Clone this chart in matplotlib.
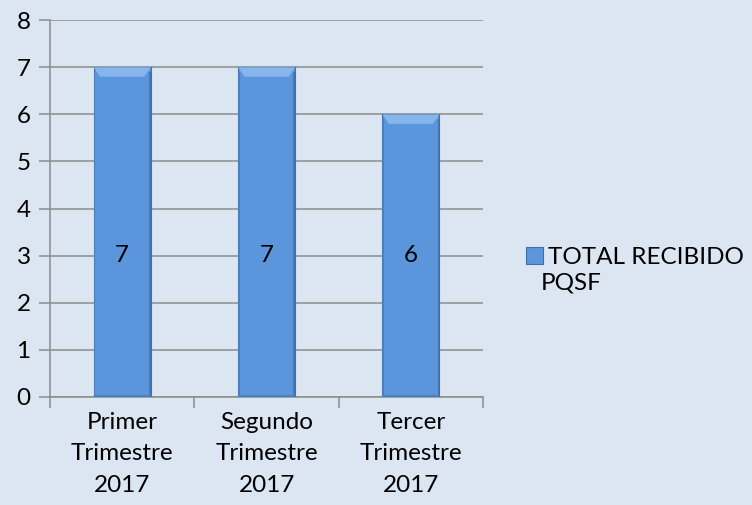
import matplotlib.pyplot as plt
from matplotlib.patches import Polygon, Rectangle

# data
categories = ["Primer\nTrimestre\n2017", "Segundo\nTrimestre\n2017", "Tercer\nTrimestre\n2017"]
values = [7, 7, 6]
series_name = ["TOTAL RECIBIDO", "PQSF"]

bg = "#DCE6F2"
bar_color = "#5B96DD"
fs = 17.5
plt.rcParams['font.family'] = ['Lato', 'DejaVu Sans']

fig = plt.figure(figsize=(7.52, 5.05), dpi=100, facecolor=bg)
ax = fig.add_axes([0.0665, 0.214, 0.576, 0.746], facecolor=bg)

x = list(range(len(values)))
width = 0.395
bars = ax.bar(x, values, width=width, color=bar_color, edgecolor="#3E6FA8",
              linewidth=0.8, zorder=3)

# bevel look: lighter top, darker sides
bev_y = 0.2
bev_x = 0.045
for b in bars:
    x0, w, h = b.get_x(), b.get_width(), b.get_height()
    top = Polygon([(x0, h), (x0 + w, h), (x0 + w - bev_x, h - bev_y), (x0 + bev_x, h - bev_y)],
                  closed=True, facecolor="#86B6EC", edgecolor="none", zorder=4)
    ax.add_patch(top)
    ax.add_patch(Rectangle((x0, 0), 0.012, h - bev_y * 0.5, facecolor="#4A7FC0",
                           edgecolor="none", zorder=4))
    ax.add_patch(Rectangle((x0 + w - 0.012, 0), 0.012, h - bev_y * 0.5, facecolor="#4577B5",
                           edgecolor="none", zorder=4))
    ax.add_patch(Rectangle((x0, 0), w, 0.04, facecolor="#4A80C2", edgecolor="none", zorder=4))
    ax.text(x0 + w / 2, 3, str(int(h)), ha="center", va="center", fontsize=fs,
            color="black", zorder=5)

ax.set_xlim(-0.5, len(values) - 0.5)
ax.set_ylim(0, 8)
ax.set_yticks(range(0, 9))
ax.yaxis.grid(True, color="#8C8C8C", linewidth=1.1, zorder=0)
ax.set_axisbelow(True)

ax.set_xticks([i - 0.5 for i in range(len(values) + 1)], minor=False)
ax.set_xticklabels([])
ax.set_xticks(x, minor=True)
ax.set_xticklabels(categories, minor=True, fontsize=fs, linespacing=1.6)
ax.tick_params(axis="x", which="minor", length=0, pad=11)
ax.tick_params(axis="x", which="major", length=8, width=1.1, color="#8C8C8C")
ax.tick_params(axis="y", length=8, width=1.1, color="#8C8C8C", labelsize=fs, pad=6)

for s in ["top", "right"]:
    ax.spines[s].set_visible(False)
for s in ["left", "bottom"]:
    ax.spines[s].set_color("#8C8C8C")
    ax.spines[s].set_linewidth(1.1)

leg = fig.legend([bars[0]], [series_name[0]], loc="center left",
                 bbox_to_anchor=(0.699, 0.490), frameon=False, fontsize=fs,
                 handlelength=0.72, handleheight=0.72, handletextpad=0.2,
                 borderpad=0, borderaxespad=0)
fig.text(0.719, 0.440, series_name[1], fontsize=fs, ha="left", va="center")

fig.savefig("out.png", dpi=100, facecolor=bg)
